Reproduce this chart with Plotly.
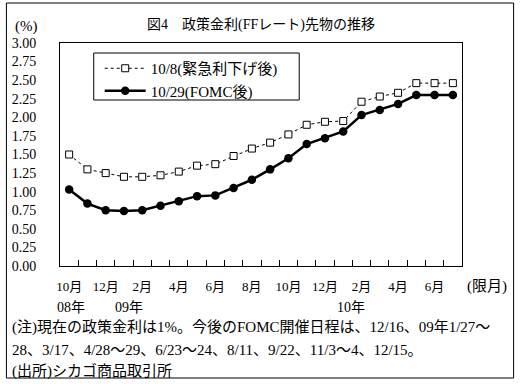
import plotly.graph_objects as go

# ---- data ----
months = ["10月", "11月", "12月", "1月", "2月", "3月", "4月", "5月", "6月", "7月", "8月", "9月",
          "10月", "11月", "12月", "1月", "2月", "3月", "4月", "5月", "6月", "7月"]
rate_oct8 = [1.50, 1.30, 1.25, 1.20, 1.20, 1.22, 1.27, 1.35, 1.37, 1.48, 1.58, 1.66,
             1.77, 1.90, 1.94, 1.95, 2.21, 2.28, 2.33, 2.46, 2.46, 2.46]
rate_oct29 = [1.03, 0.84, 0.75, 0.74, 0.75, 0.81, 0.87, 0.94, 0.95, 1.05, 1.16, 1.30,
              1.45, 1.64, 1.72, 1.81, 2.03, 2.10, 2.18, 2.30, 2.30, 2.30]
series_names = ["10/8(緊急利下げ後)", "10/29(FOMC後)"]
y_ticks = [0.00, 0.25, 0.50, 0.75, 1.00, 1.25, 1.50, 1.75, 2.00, 2.25, 2.50, 2.75, 3.00]
title_text = "図4　政策金利(FFレート)先物の推移"
year_labels = ["08年", "09年", "10年"]
notes = ["(注)現在の政策金利は1%。今後のFOMC開催日程は、12/16、09年1/27～",
         "28、3/17、4/28～29、6/23～24、8/11、9/22、11/3～4、12/15。",
         "(出所)シカゴ商品取引所"]

W, H = 521, 384
L, R, T, B = 57, 59, 43, 118
PW, PH = W - L - R, H - T - B
FONT = "Liberation Serif, Noto Sans CJK JP, sans-serif"

def px(x):
    return (x - L) / PW

def py(y):
    return (H - B - y) / PH

xs = list(range(len(months)))

fig = go.Figure()
fig.add_trace(go.Scatter(
    x=xs, y=rate_oct8, name=series_names[0], mode="lines+markers",
    line=dict(color="black", width=1, dash="3px,3px"),
    marker=dict(symbol="square", size=7, color="white", line=dict(color="black", width=1)),
))
fig.add_trace(go.Scatter(
    x=xs, y=rate_oct29, name=series_names[1], mode="lines+markers",
    line=dict(color="black", width=2.5),
    marker=dict(symbol="circle", size=8.5, color="black"),
))

fig.update_layout(
    width=W, height=H,
    margin=dict(l=L, r=R, t=T, b=B, pad=0),
    paper_bgcolor="white", plot_bgcolor="white",
    font=dict(family=FONT, size=13, color="black"),
    showlegend=True,
    legend=dict(x=px(97), y=py(52), xanchor="left", yanchor="top",
                borderwidth=0, bgcolor="rgba(0,0,0,0)", itemwidth=41,
                font=dict(family=FONT, size=15), tracegroupgap=0),
    xaxis=dict(
        range=[-0.5, len(months) - 0.5],
        tickmode="array", tickvals=xs[::2], ticktext=months[::2],
        ticks="", showgrid=False, zeroline=False,
        showline=True, mirror=True, linecolor="black", linewidth=1,
        ticklabelstandoff=8, tickfont=dict(size=13),
        minor=dict(tickmode="array", tickvals=[i + 0.5 for i in xs[:-1]],
                   ticks="inside", ticklen=6, tickcolor="black", tickwidth=1, showgrid=False),
    ),
    yaxis=dict(
        range=[0, 3], tickmode="array", tickvals=y_ticks,
        ticktext=[f"{v:.2f}" for v in y_ticks],
        ticks="", showgrid=False, zeroline=False,
        showline=True, mirror=True, linecolor="black", linewidth=1,
        ticklabelstandoff=20, tickfont=dict(size=14),
    ),
)

ann = []
ann.append(dict(text=title_text, x=px(260), y=py(25), xanchor="center", yanchor="middle",
                font=dict(size=14)))
ann.append(dict(text="(%)", x=px(23.5), y=py(26), xanchor="center", yanchor="middle",
                font=dict(size=15)))
ann.append(dict(text="(限月)", x=px(487.5), y=py(286), xanchor="center", yanchor="middle",
                font=dict(size=15)))
for lab, cx in zip(year_labels, [68, 127, 350]):
    ann.append(dict(text=lab, x=px(cx), y=py(307), xanchor="center", yanchor="middle",
                    font=dict(size=14)))
for line, cy in zip(notes, [327, 350, 371]):
    ann.append(dict(text=line, x=px(7), y=py(cy), xanchor="left", yanchor="middle",
                    font=dict(size=15)))
for a in ann:
    a.update(xref="paper", yref="paper", showarrow=False)
fig.update_layout(annotations=ann)

# outer frame
fig.add_shape(type="rect", xref="paper", yref="paper",
              x0=px(3), x1=px(514), y0=py(378), y1=py(3),
              line=dict(color="black", width=1), fillcolor="rgba(0,0,0,0)", layer="below")
# legend box
fig.add_shape(type="rect", xref="paper", yref="paper",
              x0=px(91), x1=px(298), y0=py(100), y1=py(53),
              line=dict(color="black", width=1), fillcolor="white", layer="above")

fig.write_html("out.html", config={"displayModeBar": False},
               post_script="document.body.style.margin='0';")
